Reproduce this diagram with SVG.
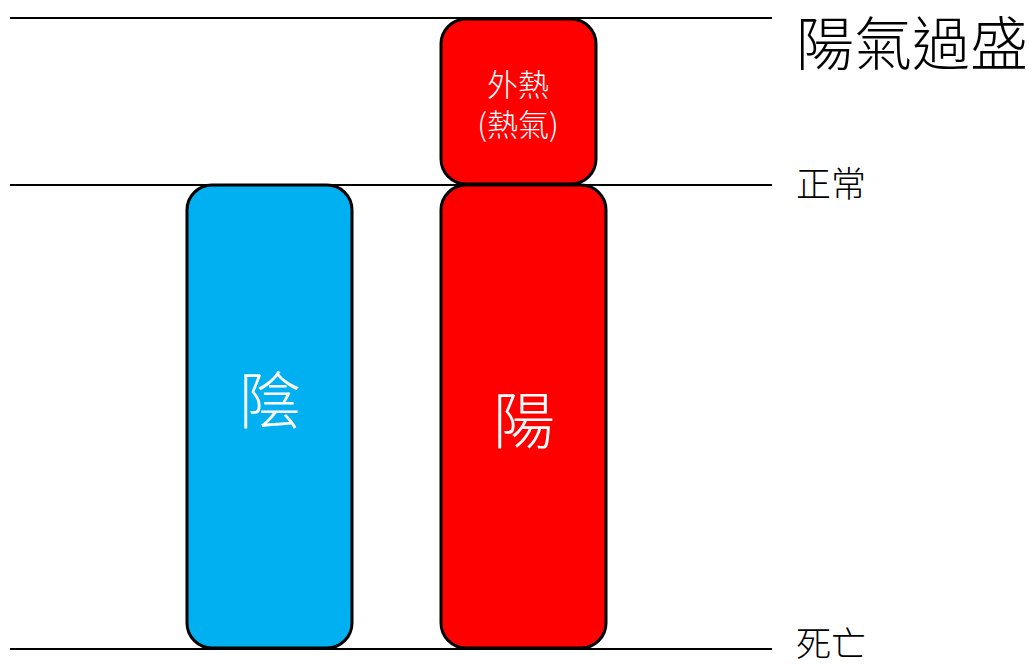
<svg xmlns="http://www.w3.org/2000/svg" width="1035" height="666" viewBox="0 0 1035 666">
<style>
.line{stroke:#000;stroke-width:2;fill:none}
.box{stroke:#000;stroke-width:3}
.yin{fill:#00B0F0}
.yang{fill:#FF0000}
text{font-family:"Noto Sans CJK TC","Noto Sans CJK SC",sans-serif}
.w{fill:#fff;text-anchor:middle}
.k{fill:#000}
</style>
<rect width="1035" height="666" fill="#fff"/>
<g id="connectors">
<line class="line" x1="10" y1="18" x2="772" y2="18"/>
<line class="line" x1="10" y1="185" x2="772" y2="185"/>
<line class="line" x1="10" y1="649" x2="772" y2="649"/>
</g>
<g id="yin">
<rect class="box yin" x="187" y="185" width="165" height="463" rx="25"/>
<text class="w" x="270" y="424" font-size="62" font-weight="300">陰</text>
</g>
<g id="yang">
<rect class="box yang" x="441" y="185" width="165" height="463" rx="25"/>
<text class="w" x="524" y="444" font-size="62" font-weight="300">陽</text>
</g>
<g id="external-heat">
<rect class="box yang" x="441" y="19" width="155" height="165" rx="25"/>
<text class="w" x="518" y="96" font-size="31" font-weight="300">外熱</text>
<text class="w" x="518" y="136" font-size="31" font-weight="300">(熱氣)</text>
</g>
<g id="labels">
<text class="k" x="796" y="65" font-size="58" font-weight="300">陽氣過盛</text>
<text class="k" x="796" y="197" font-size="35" font-weight="300">正常</text>
<text class="k" x="796" y="657" font-size="35" font-weight="300">死亡</text>
</g>
</svg>
